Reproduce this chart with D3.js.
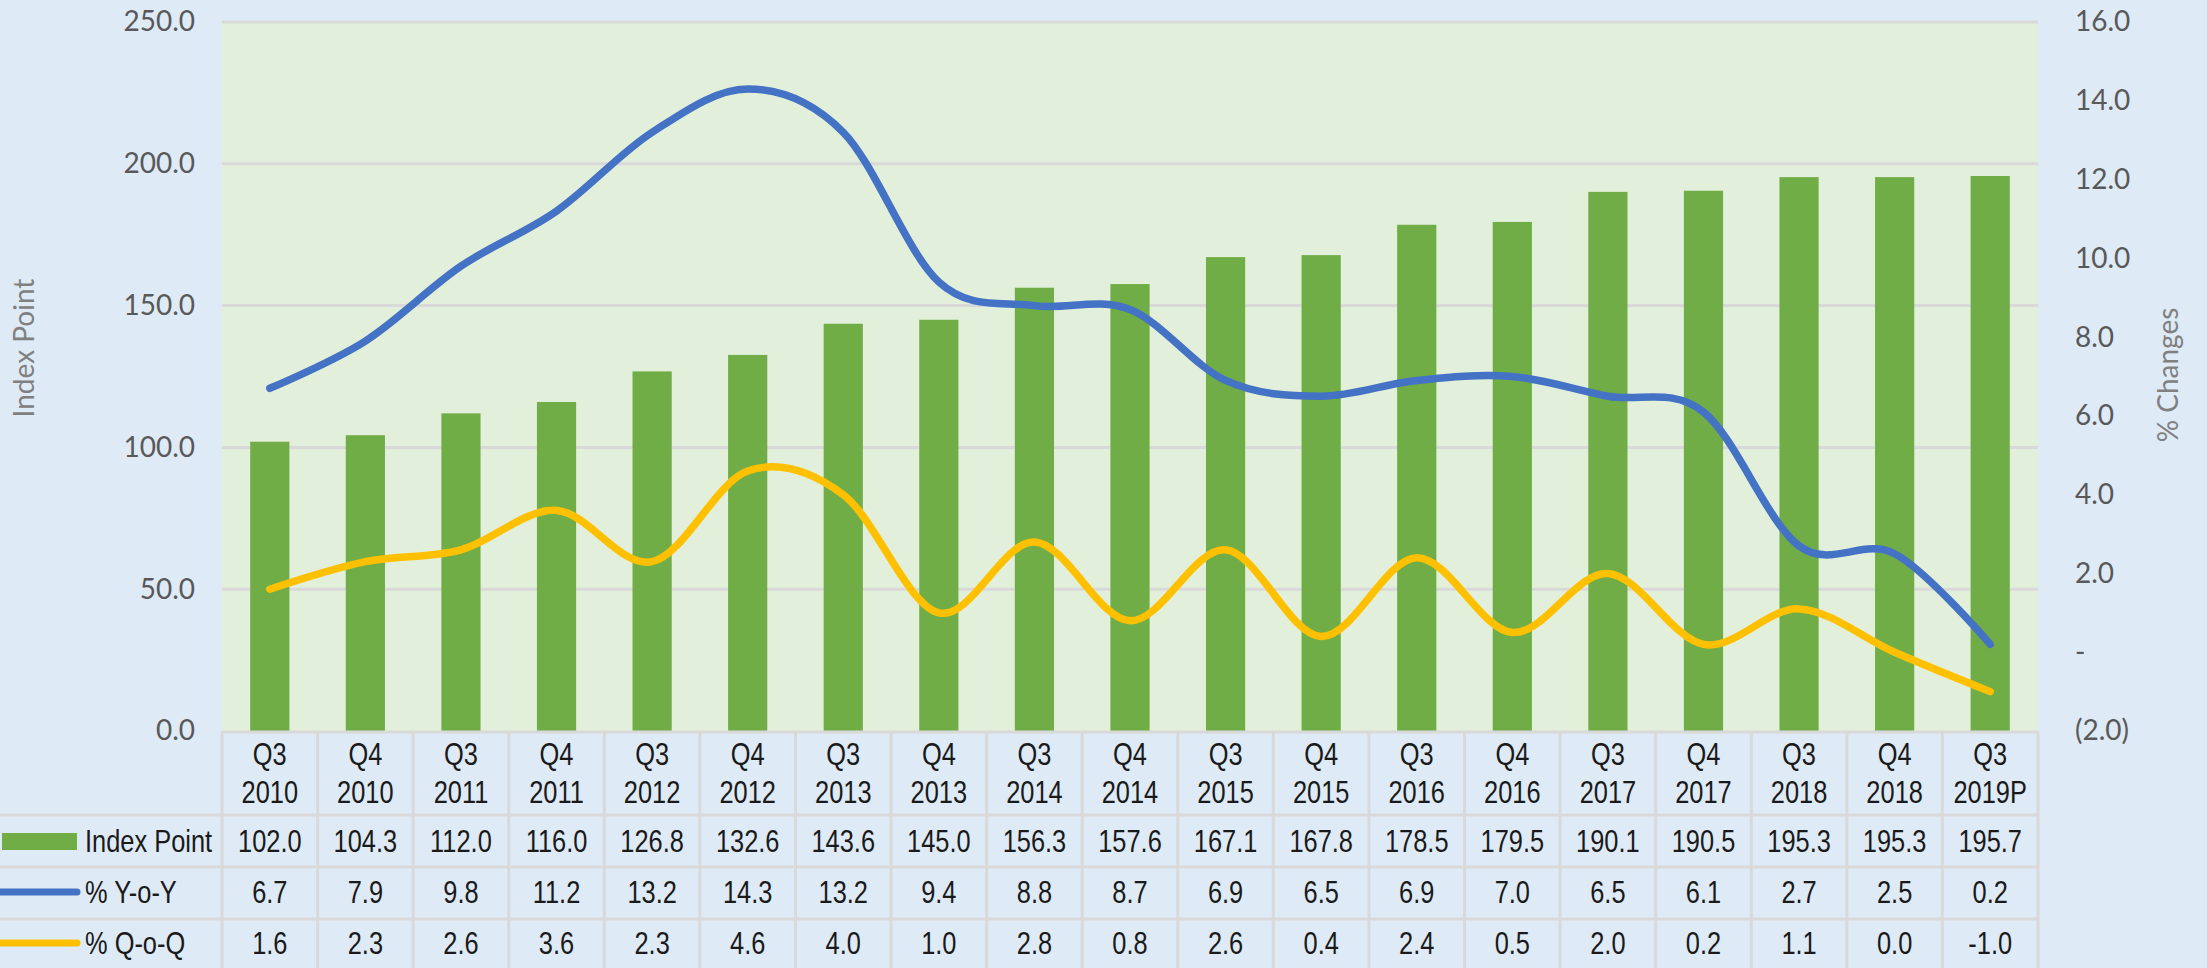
<!DOCTYPE html>
<html>
<head>
<meta charset="utf-8">
<script src="https://cdn.jsdelivr.net/npm/d3@7"></script>
<style>
  html, body { margin: 0; padding: 0; background: #deeaf6; }
  svg { display: block; }
</style>
</head>
<body>
<div id="chart"></div>
<script>
// quarters shown on the x axis (two lines each)
const quarters = ["Q3","Q4","Q3","Q4","Q3","Q4","Q3","Q4","Q3","Q4","Q3","Q4","Q3","Q4","Q3","Q4","Q3","Q4","Q3"];
const years = ["2010","2010","2011","2011","2012","2012","2013","2013","2014","2014","2015","2015","2016","2016","2017","2017","2018","2018","2019P"];

const indexPoint = [102.0,104.3,112.0,116.0,126.8,132.6,143.6,145.0,156.3,157.6,167.1,167.8,178.5,179.5,190.1,190.5,195.3,195.3,195.7];
const yoy = [6.7,7.9,9.8,11.2,13.2,14.3,13.2,9.4,8.8,8.7,6.9,6.5,6.9,7.0,6.5,6.1,2.7,2.5,0.2];
const qoq = [1.6,2.3,2.6,3.6,2.3,4.6,4.0,1.0,2.8,0.8,2.6,0.4,2.4,0.5,2.0,0.2,1.1,0.0,-1.0];

const leftTicks = [0, 50, 100, 150, 200, 250];
const rightTicks = [-2, 0, 2, 4, 6, 8, 10, 12, 14, 16];

const W = 2207, H = 968;
const plot = {left: 222, right: 2038, top: 22, bottom: 731};
const rowLines = [815, 867, 919];
const gridColor = "#d9d9d9";
const axisFont = "Lato, 'Open Sans', sans-serif";
const tableFont = "'Liberation Sans', Arial, sans-serif";
const squeeze = 0.82; // narrow look of the table font

const cats = quarters.map((q, i) => q + " " + years[i]);
const fmt1 = d => d.toFixed(1);

const svg = d3.select("#chart")
    .append("svg")
    .attr("width", W)
    .attr("height", H);

svg.append("rect")
    .attr("width", W).attr("height", H)
    .attr("fill", "#deeaf6");

// plot area
svg.append("rect")
    .attr("x", plot.left).attr("y", plot.top)
    .attr("width", plot.right - plot.left)
    .attr("height", plot.bottom - plot.top)
    .attr("fill", "#e2efda");

var x = d3.scaleBand()
    .domain(cats)
    .range([plot.left, plot.right])
    .padding(0);

var y = d3.scaleLinear()
    .domain([0, 250])
    .range([plot.bottom, plot.top]);

var y2 = d3.scaleLinear()
    .domain([-2, 16])
    .range([plot.bottom, plot.top]);

// gridlines
svg.append("g")
    .selectAll("line")
    .data(leftTicks.filter(d => d > 0))
    .enter()
    .append("line")
    .attr("x1", plot.left).attr("x2", plot.right)
    .attr("y1", d => y(d)).attr("y2", d => y(d))
    .attr("stroke", gridColor)
    .attr("stroke-width", 3);

// left axis
const leftAxis = svg.append("g")
    .attr("transform", "translate(" + (plot.left - 27) + ",0)")
    .call(d3.axisLeft(y).tickValues(leftTicks).tickSize(0).tickPadding(0).tickFormat(fmt1));
leftAxis.select(".domain").remove();
leftAxis.selectAll("text")
    .style("font-family", axisFont)
    .style("font-size", "28px")
    .attr("fill", "#595959");

// right axis
const rightAxis = svg.append("g")
    .attr("transform", "translate(" + (plot.right + 37) + ",0)")
    .call(d3.axisRight(y2).tickValues(rightTicks).tickSize(0).tickPadding(0)
        .tickFormat(d => d === 0 ? "-" : d < 0 ? "(" + fmt1(-d) + ")" : fmt1(d)));
rightAxis.select(".domain").remove();
rightAxis.selectAll("text")
    .style("font-family", axisFont)
    .style("font-size", "28px")
    .attr("fill", "#595959");

// axis titles
svg.append("text")
    .attr("transform", "translate(34,348) rotate(-90)")
    .attr("text-anchor", "middle")
    .style("font-family", axisFont)
    .style("font-size", "28px")
    .attr("fill", "#808080")
    .text("Index Point");

svg.append("text")
    .attr("transform", "translate(2178,375) rotate(-90)")
    .attr("text-anchor", "middle")
    .style("font-family", axisFont)
    .style("font-size", "28px")
    .attr("fill", "#808080")
    .text("% Changes");

// bars
const barW = x.bandwidth() * 0.41;
svg.append("g")
    .selectAll("rect")
    .data(indexPoint)
    .enter()
    .append("rect")
    .attr("x", (d, i) => x(cats[i]) + (x.bandwidth() - barW) / 2)
    .attr("y", d => y(d))
    .attr("width", barW)
    .attr("height", d => plot.bottom - y(d))
    .attr("fill", "#70ad47");

// smoothed lines
const line = d3.line()
    .x((d, i) => x(cats[i]) + x.bandwidth() / 2)
    .y(d => y2(d))
    .curve(d3.curveCardinal.tension(0));

svg.append("path")
    .datum(qoq)
    .attr("d", line)
    .attr("fill", "none")
    .attr("stroke", "#ffc000")
    .attr("stroke-width", 7.5)
    .attr("stroke-linecap", "round");

svg.append("path")
    .datum(yoy)
    .attr("d", line)
    .attr("fill", "none")
    .attr("stroke", "#4472c4")
    .attr("stroke-width", 7.5)
    .attr("stroke-linecap", "round");

// data table
const table = svg.append("g");

// horizontal lines
table.append("line")
    .attr("x1", plot.left).attr("x2", plot.right)
    .attr("y1", plot.bottom + 1).attr("y2", plot.bottom + 1)
    .attr("stroke", gridColor).attr("stroke-width", 3);

table.selectAll(".hline")
    .data(rowLines)
    .enter()
    .append("line")
    .attr("class", "hline")
    .attr("x1", 0).attr("x2", plot.right)
    .attr("y1", d => d).attr("y2", d => d)
    .attr("stroke", gridColor).attr("stroke-width", 3);

// vertical lines
table.selectAll(".vline")
    .data(cats.concat(["end"]))
    .enter()
    .append("line")
    .attr("class", "vline")
    .attr("x1", (d, i) => plot.left + i * x.bandwidth())
    .attr("x2", (d, i) => plot.left + i * x.bandwidth())
    .attr("y1", plot.bottom).attr("y2", H)
    .attr("stroke", gridColor).attr("stroke-width", 3);

function cellText(g, cx, cy, anchor, str) {
    g.append("text")
        .attr("transform", "translate(" + cx + "," + cy + ") scale(" + squeeze + ",1)")
        .attr("text-anchor", anchor)
        .style("font-family", tableFont)
        .style("font-size", "31px")
        .attr("fill", "#1a1a1a")
        .text(str);
}

// category header
cats.forEach(function(c, i) {
    const cx = x(c) + x.bandwidth() / 2;
    cellText(table, cx, 765, "middle", quarters[i]);
    cellText(table, cx, 803, "middle", years[i]);
});

// rows
const rows = [
    {label: "Index Point", values: indexPoint, base: 852},
    {label: "% Y-o-Y", values: yoy, base: 903},
    {label: "% Q-o-Q", values: qoq, base: 954}
];

rows.forEach(function(r) {
    r.values.forEach(function(v, i) {
        cellText(table, x(cats[i]) + x.bandwidth() / 2, r.base, "middle", fmt1(v));
    });
    cellText(table, 85, r.base, "start", r.label);
});

// legend keys
table.append("rect")
    .attr("x", 2).attr("y", 833)
    .attr("width", 75).attr("height", 17)
    .attr("fill", "#70ad47");

table.append("line")
    .attr("x1", -4).attr("x2", 77)
    .attr("y1", 892).attr("y2", 892)
    .attr("stroke", "#4472c4").attr("stroke-width", 7)
    .attr("stroke-linecap", "round");

table.append("line")
    .attr("x1", -4).attr("x2", 77)
    .attr("y1", 943).attr("y2", 943)
    .attr("stroke", "#ffc000").attr("stroke-width", 7)
    .attr("stroke-linecap", "round");
</script>
</body>
</html>
